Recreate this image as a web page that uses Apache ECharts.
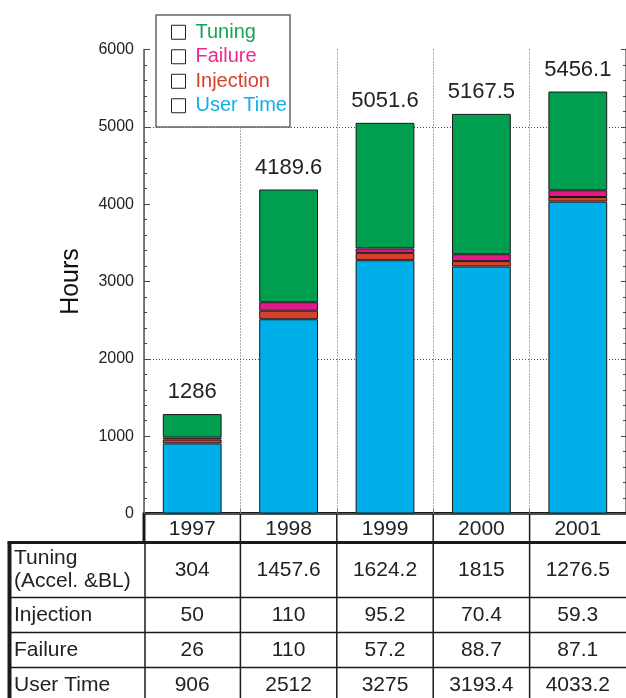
<!DOCTYPE html>
<html>
<head>
<meta charset="utf-8">
<script src="https://cdn.jsdelivr.net/npm/echarts@6/dist/echarts.min.js"></script>
<style>
  html, body { margin: 0; padding: 0; background: #fff; }
  #chart { width: 626px; height: 698px; }
</style>
</head>
<body>
<div id="chart"></div>
<script>
// Yearly beam hours by category
const years = ['1997', '1998', '1999', '2000', '2001'];
const userTime = [906, 2512, 3275, 3193.4, 4033.2];
const injection = [50, 110, 95.2, 70.4, 59.3];
const failure = [26, 110, 57.2, 88.7, 87.1];
const tuning = [304, 1457.6, 1624.2, 1815, 1276.5];

// Axis range and the dotted reference levels
const yMin = 0, yMax = 6000, yStep = 1000;
const guideLevels = [2000, 5000];

// Table rows under the chart (top to bottom)
const rowLabels = ['Tuning\n(Accel. &BL)', 'Injection', 'Failure', 'User Time'];
const rowValues = [tuning, injection, failure, userTime];

const SANS = '"Liberation Sans", Arial, Helvetica, sans-serif';
const INK = '#222';
const DOTS = [1, 2];

const colors = {
  'Tuning': '#009E4F',
  'Failure': '#E3198A',
  'Injection': '#D8402C',
  'User Time': '#00AEEA'
};
const legendColors = {
  'Tuning': '#12A556',
  'Failure': '#EC2A8E',
  'Injection': '#D8402C',
  'User Time': '#12AEEA'
};

const totals = years.map((_, i) =>
  Math.round((userTime[i] + injection[i] + failure[i] + tuning[i]) * 10) / 10);

const barStyle = name => ({ color: colors[name], borderColor: '#1a1a1a', borderWidth: 1 });

const chart = echarts.init(document.getElementById('chart'), null, { renderer: 'canvas' });

const option = {
  animation: false,
  backgroundColor: '#fff',
  grid: { left: 144, top: 49.5, right: -2, bottom: 184.5, containLabel: false },
  legend: {
    orient: 'vertical',
    left: 156,
    top: 15,
    selectedMode: false,
    icon: 'path://M0,0H10V10H0Z',
    itemWidth: 24,
    itemHeight: 14,
    itemGap: 0,
    itemStyle: { color: '#fff', borderColor: '#222', borderWidth: 1 },
    backgroundColor: '#fff',
    borderColor: '#666',
    borderWidth: 1.5,
    borderRadius: 0,
    padding: [5, 3, 9, 15],
    z: 10,
    textStyle: { fontFamily: SANS, fontSize: 20, lineHeight: 24.5 },
    data: ['Tuning', 'Failure', 'Injection', 'User Time'].map(n => ({
      name: n, textStyle: { color: legendColors[n] }
    }))
  },
  xAxis: [
    {
      type: 'category',
      data: years,
      position: 'bottom',
      boundaryGap: true,
      axisLine: { show: true, lineStyle: { color: '#1a1a1a', width: 3 } },
      axisTick: { show: true, inside: true, length: 5, lineStyle: { color: '#777', width: 1 } },
      axisLabel: { margin: 5, fontFamily: SANS, fontSize: 21, color: INK },
      splitLine: { show: true, lineStyle: { type: DOTS, color: '#555', width: 1 } }
    },
    {
      type: 'category',
      data: years,
      position: 'top',
      axisLine: { show: true, lineStyle: { color: '#666', width: 1.5 } },
      axisTick: { show: false },
      axisLabel: { show: false },
      splitLine: { show: false }
    }
  ],
  yAxis: [
    {
      type: 'value',
      position: 'left',
      min: yMin, max: yMax, interval: yStep,
      name: 'Hours',
      nameLocation: 'middle',
      nameRotate: 90,
      nameGap: 60,
      nameTextStyle: { fontFamily: SANS, fontSize: 25, color: '#111' },
      axisLine: { show: true, lineStyle: { color: '#555', width: 1.5 } },
      axisTick: { show: true, inside: true, length: 6, lineStyle: { color: '#444', width: 1 } },
      minorTick: { show: true, splitNumber: 5, length: 3, lineStyle: { color: '#444', width: 1 } },
      axisLabel: {
        fontFamily: SANS, fontSize: 16, color: INK, margin: 10, padding: [0, 0, 9, 0],
        formatter: v => String(v)
      },
      splitLine: { show: false }
    },
    {
      type: 'value',
      position: 'right',
      min: yMin, max: yMax, interval: yStep,
      axisLine: { show: true, lineStyle: { color: '#666', width: 1.5 } },
      axisTick: { show: true, inside: true, length: 5, lineStyle: { color: '#444', width: 1 } },
      minorTick: { show: true, splitNumber: 5, length: 3, lineStyle: { color: '#444', width: 1 } },
      axisLabel: { show: false },
      splitLine: { show: false }
    }
  ],
  series: [
    {
      name: 'User Time', type: 'bar', stack: 'hours', barWidth: '61%',
      data: userTime, itemStyle: barStyle('User Time'),
      markLine: {
        silent: true, z: 1, symbol: 'none',
        label: { show: false },
        lineStyle: { type: DOTS, color: '#555', width: 1 },
        data: guideLevels.map(v => ({ yAxis: v }))
      }
    },
    { name: 'Injection', type: 'bar', stack: 'hours', data: injection, itemStyle: barStyle('Injection') },
    { name: 'Failure', type: 'bar', stack: 'hours', data: failure, itemStyle: barStyle('Failure') },
    {
      name: 'Tuning', type: 'bar', stack: 'hours', data: tuning, itemStyle: barStyle('Tuning'),
      label: {
        show: true, position: 'top', distance: 11,
        fontFamily: SANS, fontSize: 22, color: INK,
        formatter: p => String(totals[p.dataIndex])
      }
    }
  ]
};

chart.setOption(option);

// Data table drawn beneath the category axis, columns aligned to the axis bands
function buildTable() {
  const centers = years.map(y => chart.convertToPixel({ xAxisIndex: 0 }, y));
  const band = centers[1] - centers[0];
  const edges = [centers[0] - band / 2].concat(centers.map(c => c + band / 2));
  const right = edges[edges.length - 1];

  const headTop = 514;
  const bodyTop = 542.5;
  const rowHeights = [55, 35, 35, 35];
  const rowEdges = [bodyTop];
  rowHeights.forEach(h => rowEdges.push(rowEdges[rowEdges.length - 1] + h));
  const tableLeft = 9.5;
  const bottom = 700;

  const els = [];
  const line = (x1, y1, x2, y2, w, c) => els.push({
    type: 'line', silent: true, z: 20,
    shape: { x1, y1, x2, y2 },
    style: { stroke: c || '#1a1a1a', lineWidth: w }
  });

  // header-row left border and body top rule
  line(edges[0], headTop, edges[0], bodyTop, 3);
  line(tableLeft - 2, bodyTop, right, bodyTop, 3);
  // outer left border of body
  line(tableLeft, bodyTop, tableLeft, bottom, 4);
  // label column separator
  line(edges[0] + 1, bodyTop, edges[0] + 1, bottom, 1.5);
  // year column separators
  for (let k = 1; k < edges.length - 1; k++) line(edges[k], headTop, edges[k], bottom, 1.5);
  // row separators
  for (let r = 1; r < rowEdges.length - 1; r++) line(tableLeft, rowEdges[r], right, rowEdges[r], 1.5);

  rowLabels.forEach((lab, r) => {
    const cy = (rowEdges[r] + rowEdges[r + 1]) / 2;
    els.push({
      type: 'text', silent: true, z: 21,
      style: {
        text: lab, x: 14, y: cy, align: 'left', verticalAlign: 'middle',
        fontFamily: SANS, fontSize: 21, lineHeight: 23, fill: INK
      }
    });
    rowValues[r].forEach((v, i) => {
      els.push({
        type: 'text', silent: true, z: 21,
        style: {
          text: String(v), x: centers[i], y: cy, align: 'center', verticalAlign: 'middle',
          fontFamily: SANS, fontSize: 21, fill: INK
        }
      });
    });
  });

  chart.setOption({ graphic: { elements: els } });
}

buildTable();
</script>
</body>
</html>
